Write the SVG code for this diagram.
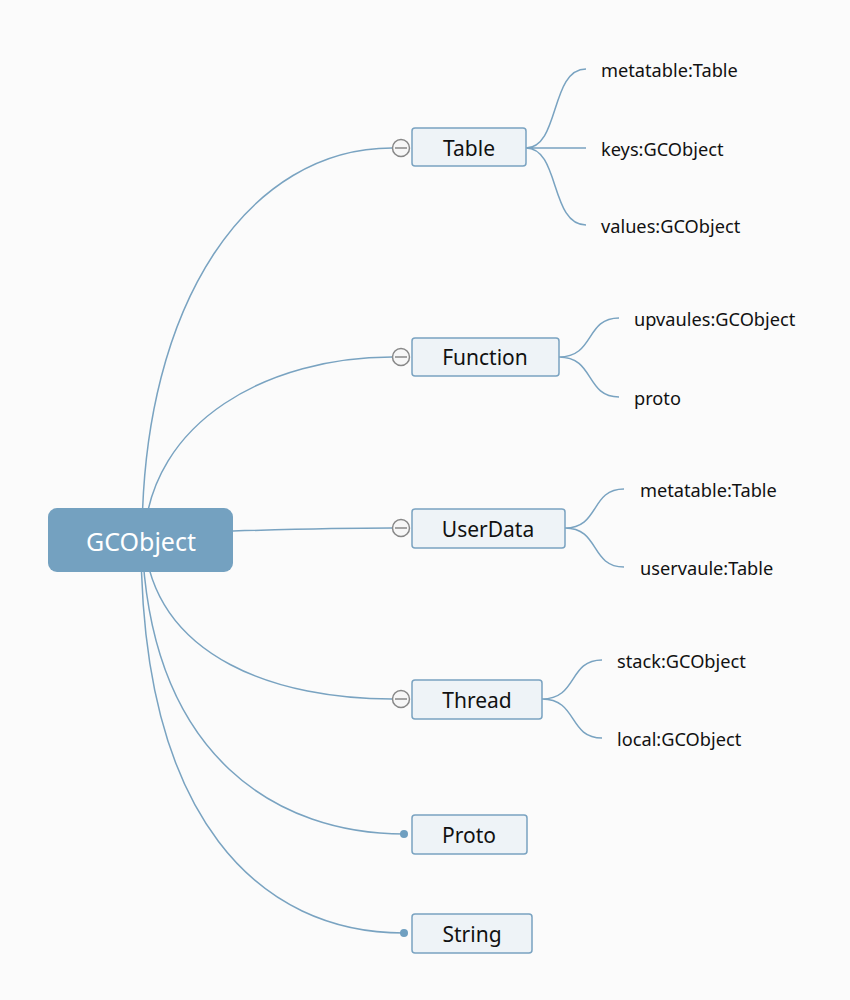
<svg xmlns="http://www.w3.org/2000/svg" width="850" height="1000" viewBox="0 0 850 1000">
<style>
.ln{fill:none;stroke:#79a3c1;stroke-width:1.5}
.nd{fill:#eef3f7;stroke:#7aa3c1;stroke-width:1.5}
.nt{font-family:"Noto Sans","Open Sans",sans-serif;font-size:21px;fill:#111;text-anchor:middle}
.lt{font-family:"Noto Sans","Open Sans",sans-serif;font-size:18.2px;fill:#111}
.cc{fill:#f7f7f7;stroke:#888;stroke-width:1.5}
.dot{fill:#6f9fc0}
</style>
<rect width="850" height="1000" fill="#fbfbfb"/>
<g id="connectors">
<path class="ln" d="M142,540 C142,300 250,148 392,148"/>
<path class="ln" d="M144,540 C150,420 270,357 392,357"/>
<path class="ln" d="M233,531 C300,529 340,528 392,528"/>
<path class="ln" d="M144,540 C155,660 280,699 392,699"/>
<path class="ln" d="M142,540 C150,760 280,834 404,834"/>
<path class="ln" d="M141,540 C141,820 260,933 404,933"/>
<path class="ln" d="M526,148 C560,148 550,69 586,69 M526,148 L586,148 M526,148 C560,148 550,225 586,225"/>
<path class="ln" d="M559,357 C595,357 585,318 619,318 M559,357 C595,357 585,397 619,397"/>
<path class="ln" d="M565,528 C600,528 590,489 624,489 M565,528 C600,528 590,567 624,567"/>
<path class="ln" d="M542,699 C578,699 568,660 602,660 M542,699 C578,699 568,738 602,738"/>
</g>
<g id="root">
<rect x="48" y="508" width="185" height="64" rx="9" fill="#74a1c0"/>
<text x="141" y="551" font-family="Noto Sans,Open Sans,sans-serif" font-size="25" fill="#fff" text-anchor="middle">GCObject</text>
</g>
<g id="table">
<circle class="cc" cx="401" cy="148" r="8.5"/><line x1="395" y1="148" x2="407" y2="148" stroke="#888" stroke-width="1.5"/>
<rect class="nd" x="412" y="128" width="114" height="38" rx="3"/>
<text class="nt" x="469" y="156">Table</text>
<text class="lt" x="601" y="77">metatable:Table</text>
<text class="lt" x="601" y="156">keys:GCObject</text>
<text class="lt" x="601" y="233">values:GCObject</text>
</g>
<g id="function">
<circle class="cc" cx="401" cy="357" r="8.5"/><line x1="395" y1="357" x2="407" y2="357" stroke="#888" stroke-width="1.5"/>
<rect class="nd" x="412" y="338" width="147" height="38" rx="3"/>
<text class="nt" x="485" y="365">Function</text>
<text class="lt" x="634" y="326">upvaules:GCObject</text>
<text class="lt" x="634" y="405">proto</text>
</g>
<g id="userdata">
<circle class="cc" cx="401" cy="528" r="8.5"/><line x1="395" y1="528" x2="407" y2="528" stroke="#888" stroke-width="1.5"/>
<rect class="nd" x="412" y="509" width="153" height="39" rx="3"/>
<text class="nt" x="488" y="537">UserData</text>
<text class="lt" x="640" y="497">metatable:Table</text>
<text class="lt" x="640" y="575">uservaule:Table</text>
</g>
<g id="thread">
<circle class="cc" cx="401" cy="699" r="8.5"/><line x1="395" y1="699" x2="407" y2="699" stroke="#888" stroke-width="1.5"/>
<rect class="nd" x="412" y="680" width="130" height="39" rx="3"/>
<text class="nt" x="477" y="708">Thread</text>
<text class="lt" x="617" y="668">stack:GCObject</text>
<text class="lt" x="617" y="746">local:GCObject</text>
</g>
<g id="proto">
<circle class="dot" cx="404" cy="834" r="4"/>
<rect class="nd" x="412" y="815" width="115" height="39" rx="3"/>
<text class="nt" x="469" y="843">Proto</text>
</g>
<g id="string">
<circle class="dot" cx="404" cy="933" r="4"/>
<rect class="nd" x="412" y="914" width="120" height="39" rx="3"/>
<text class="nt" x="472" y="942">String</text>
</g>
</svg>
